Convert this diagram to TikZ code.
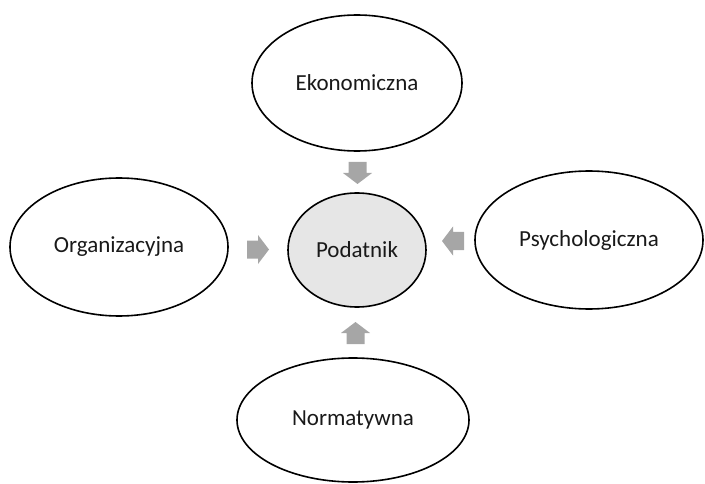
\documentclass[tikz,border=0pt]{standalone}
\usepackage{fontspec}
\setmainfont{Carlito}
\usetikzlibrary{shapes.geometric}
\definecolor{arrowgray}{HTML}{A6A6A6}
\definecolor{centerfill}{HTML}{E6E6E6}
\tikzset{
  oval/.style={ellipse, draw=black, line width=1.6pt, inner sep=0pt, font=\fontsize{23}{27}\selectfont, text=black!90},
  blockarr/.pic={\fill[arrowgray] (-11,-9)--(0,-9)--(0,-14.5)--(11,0)--(0,14.5)--(0,9)--(-11,9)--cycle;}
}
\begin{document}
\begin{tikzpicture}[x=1pt,y=1pt]
\useasboundingbox (0,0) rectangle (705,483);
\node[oval, minimum width=210, minimum height=136] (eko) at (357,400) {Ekonomiczna};
\node[oval, minimum width=218, minimum height=138] (org) at (119,236) {Organizacyjna};
\node[oval, minimum width=228, minimum height=138] (psy) at (589,243) {Psychologiczna};
\node[oval, minimum width=232, minimum height=124] (nor) at (353,63) {Normatywna};
\node[oval, fill=centerfill, minimum width=138, minimum height=114] (pod) at (357,233) {Podatnik};
\pic[rotate=-90] at (357.5,310) {blockarr};
\pic at (258,233.5) {blockarr};
\pic[rotate=180] at (453,242) {blockarr};
\pic[rotate=90] at (355.5,150) {blockarr};
\end{tikzpicture}
\end{document}
